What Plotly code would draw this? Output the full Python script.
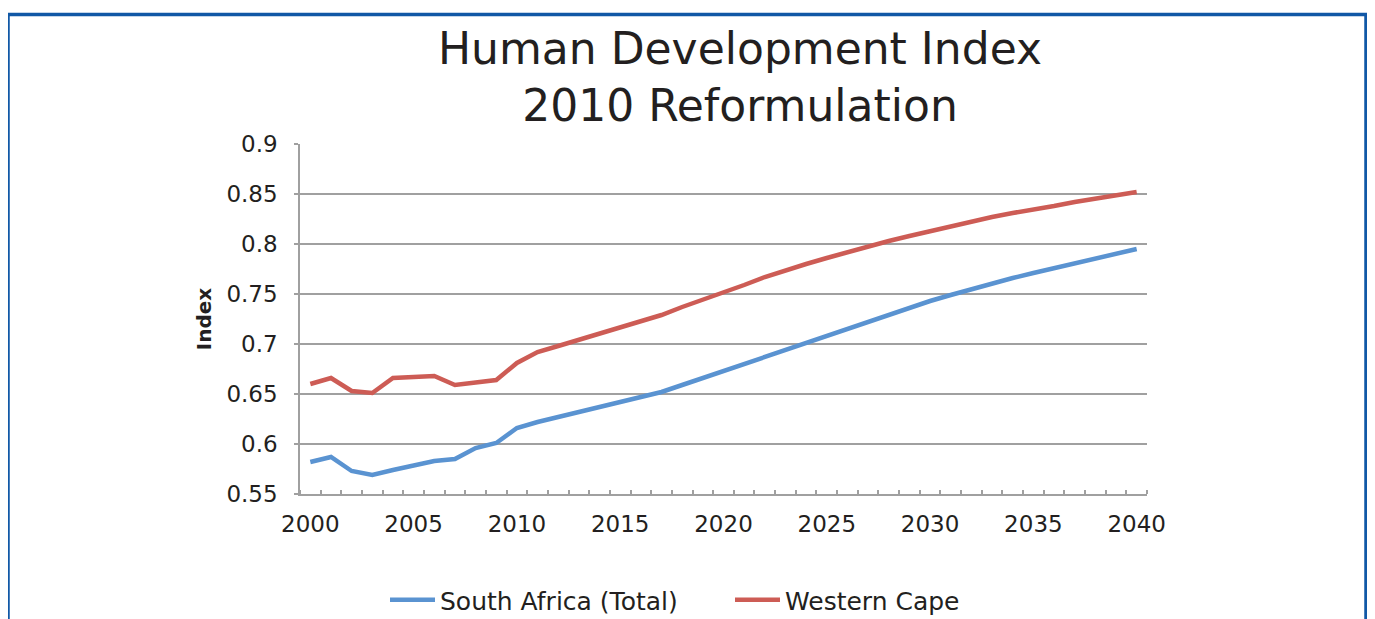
import plotly.graph_objects as go

years = list(range(2000, 2041))
south_africa = [0.582, 0.587, 0.573, 0.569, 0.574, 0.578, 0.583, 0.585, 0.596, 0.601,
                0.616, 0.622, 0.627, 0.631, 0.636, 0.641, 0.646, 0.652, 0.659, 0.666,
                0.673, 0.680, 0.687, 0.695, 0.702, 0.709, 0.716, 0.722, 0.729, 0.736,
                0.743, 0.749, 0.755, 0.761, 0.766, 0.771, 0.776, 0.781, 0.786, 0.791,
                0.795]
western_cape = [0.660, 0.666, 0.653, 0.651, 0.666, 0.667, 0.668, 0.659, 0.662, 0.664,
                0.681, 0.692, 0.698, 0.704, 0.710, 0.716, 0.722, 0.729, 0.737, 0.744,
                0.752, 0.759, 0.767, 0.774, 0.780, 0.786, 0.792, 0.797, 0.803, 0.808,
                0.813, 0.818, 0.822, 0.827, 0.831, 0.834, 0.838, 0.842, 0.845, 0.849,
                0.852]
x_tick_labels = [2000, 2005, 2010, 2015, 2020, 2025, 2030, 2035, 2040]
y_tick_values = [0.55, 0.6, 0.65, 0.7, 0.75, 0.8, 0.85, 0.9]
y_tick_labels = ["0.55", "0.6", "0.65", "0.7", "0.75", "0.8", "0.85", "0.9"]

BLUE = "#5A93D1"
RED = "#CD5C55"
FONT = "'DejaVu Sans', sans-serif"
TXT = "#231F20"
GRID = "#A0A0A0"

# the page puts the figure 8px in from its top-left corner
OFF = 8
W, H = 1375, 619
L, T = 300 - OFF, 144 - OFF
pw, ph = 847, 350
R = W - L - pw
B = H - T - ph


def px_x(p):
    return (p - OFF - L) / pw


def px_y(p):
    return (T + ph - (p - OFF)) / ph


fig = go.Figure()
fig.add_trace(go.Scatter(x=years, y=south_africa, mode="lines", name="South Africa (Total)",
                         line=dict(color=BLUE, width=4.5)))
fig.add_trace(go.Scatter(x=years, y=western_cape, mode="lines", name="Western Cape",
                         line=dict(color=RED, width=4.5)))

fig.add_shape(type="rect", xref="paper", yref="paper",
              x0=px_x(8), x1=px_x(1366), y0=px_y(660), y1=px_y(14.5),
              line=dict(color="#1158A6", width=3.5), fillcolor="rgba(0,0,0,0)", layer="below")

fig.update_layout(
    width=W, height=H,
    margin=dict(l=L, r=R, t=T, b=B),
    paper_bgcolor="white", plot_bgcolor="white",
    title=dict(text="Human Development Index<br>2010 Reformulation",
               x=(740 - OFF) / W, xanchor="center", xref="container",
               y=1 - (64 - OFF) / H, yanchor="middle", yref="container",
               font=dict(family=FONT, size=44, color=TXT)),
    font=dict(family=FONT, color=TXT),
    showlegend=True,
    legend=dict(orientation="h", x=(390 - OFF - 5) / W, xref="container", xanchor="left",
                y=1 - (600 - OFF) / H, yref="container", yanchor="middle",
                font=dict(family=FONT, size=25, color=TXT), itemwidth=45,
                entrywidth=285, entrywidthmode="pixels",
                bgcolor="rgba(0,0,0,0)"),
    xaxis=dict(range=[1999.5, 2040.5], tickvals=x_tick_labels,
               ticktext=[str(v) for v in x_tick_labels],
               showgrid=False, zeroline=False,
               showline=True, linecolor=GRID, linewidth=1.5,
               ticks="", ticklabelstandoff=9,
               tickfont=dict(family=FONT, size=23, color=TXT),
               minor=dict(tickvals=[y - 0.5 for y in years] + [years[-1] + 0.5],
                          ticks="inside", ticklen=4, tickcolor=GRID, tickwidth=1.5,
                          showgrid=False)),
    yaxis=dict(range=[0.55, 0.9], tickvals=y_tick_values, ticktext=y_tick_labels,
               showgrid=True, gridcolor=GRID, gridwidth=1.5, zeroline=False,
               showline=True, linecolor=GRID, linewidth=1.5,
               ticks="outside", ticklen=4, tickcolor=GRID, tickwidth=1.5,
               ticklabelstandoff=12,
               tickfont=dict(family=FONT, size=23, color=TXT),
               title=dict(text="<b>Index</b>", standoff=9,
                          font=dict(family=FONT, size=20, color=TXT))),
)

fig.write_html("out.html")
